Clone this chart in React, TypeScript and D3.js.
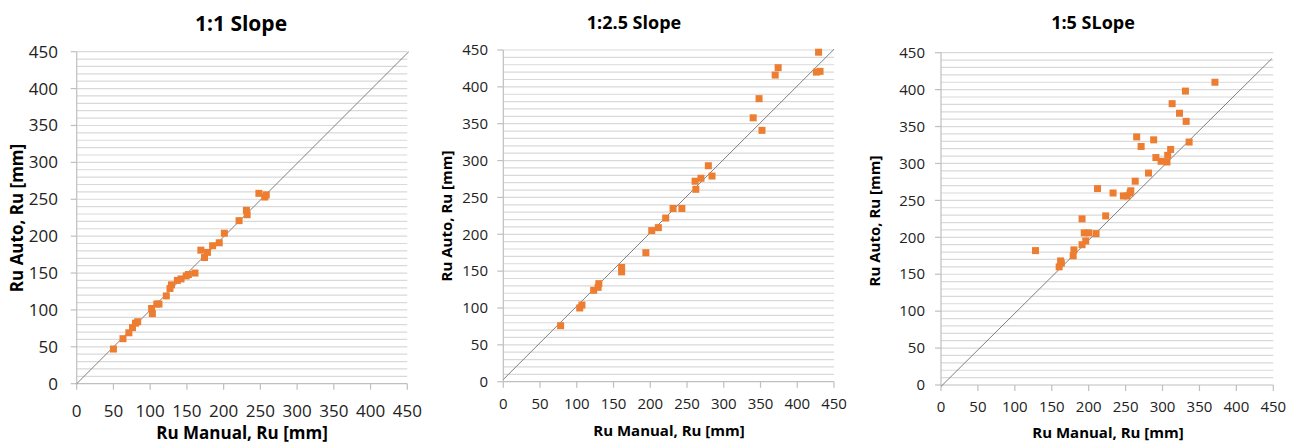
import React from 'react';
import * as d3 from 'd3';

type Pt = [number, number];

// 1:1 slope – manual vs auto run-up
const slope1: Pt[] = [
  [50, 47], [63, 61], [71, 69], [76, 76], [80, 82], [83, 84], [103, 95], [102, 102],
  [109, 108], [112, 108], [122, 119], [127, 129], [129, 134], [137, 140], [142, 142],
  [149, 146], [152, 148], [161, 150], [169, 181], [174, 171], [178, 178], [185, 187],
  [194, 191], [201, 204], [221, 221], [231, 235], [232, 229], [248, 258], [256, 253], [258, 256],
];

const slope25: Pt[] = [
  [78, 76], [104, 100], [107, 104], [123, 124], [129, 128], [130, 133], [161, 155], [161, 149],
  [194, 175], [202, 205], [211, 209], [221, 222], [231, 235], [243, 235], [262, 261], [261, 272],
  [269, 276], [279, 293], [284, 279], [340, 358], [348, 384], [352, 341], [370, 416], [374, 426],
  [429, 447], [426, 420], [431, 421],
];

const slope5: Pt[] = [
  [128, 182], [160, 160], [162, 168], [163, 165], [179, 175], [180, 183], [191, 225], [191, 190],
  [196, 195], [194, 206], [200, 206], [210, 205], [223, 229], [212, 266], [233, 260], [247, 256],
  [252, 256], [256, 260], [257, 263], [263, 276], [281, 287], [265, 336], [271, 323], [288, 332],
  [291, 308], [298, 303], [306, 302], [307, 311], [311, 319], [336, 329], [331, 398], [313, 381],
  [323, 368], [332, 357], [371, 410],
];

// reference lines drawn in each panel
const line1: Pt[] = [[0, 0], [452, 450]];
const line25: Pt[] = [[0, 3], [450, 451]];
const line5: Pt[] = [[0, -2], [448, 442]];

const titles = ['1:1 Slope', '1:2.5 Slope', '1:5 SLope'];
const xTitle = 'Ru Manual, Ru [mm]';
const yTitle = 'Ru Auto, Ru [mm]';
const majorTicks = d3.range(0, 451, 50);
const gridTicks = d3.range(10, 451, 10);

const FONT = '"Open Sans", sans-serif';

type PanelProps = {
  data: Pt[];
  line: Pt[];
  title: string;
  box: { l: number; r: number; t: number; b: number };
  titleY: number;
  titleX: number;
  titleSize: number;
  tickSize: number;
  labelSize: number;
  yLabelRight: number;
  xLabelY: number;
  xTitleX: number;
  xTitleY: number;
  yTitleX: number;
  yTitleY: number;
};

const Panel = (p: PanelProps) => {
  const x = d3.scaleLinear().domain([0, 450]).range([p.box.l, p.box.r]);
  const y = d3.scaleLinear().domain([0, 450]).range([p.box.b, p.box.t]);
  const path = d3.line<Pt>().x(d => x(d[0])).y(d => y(d[1]));
  const s = 7;

  return (
    <g>
      <text x={p.titleX} y={p.titleY} textAnchor="middle" fontFamily={FONT}
        fontWeight="bold" fontSize={p.titleSize} fill="#000">{p.title}</text>

      {gridTicks.map(t => (
        <line key={'g' + t} x1={x(0)} x2={x(450)} y1={y(t)} y2={y(t)}
          stroke="#d9d9d9" strokeWidth={1.2} />
      ))}

      {/* axes */}
      <line x1={x(0)} x2={x(0)} y1={y(0)} y2={y(450)} stroke="#bfbfbf" strokeWidth={1.2} />
      <line x1={x(0)} x2={x(450)} y1={y(0)} y2={y(0)} stroke="#bfbfbf" strokeWidth={1.2} />
      {majorTicks.map(t => (
        <g key={'t' + t}>
          <line x1={x(0) - 6} x2={x(0)} y1={y(t)} y2={y(t)} stroke="#bfbfbf" strokeWidth={1.2} />
          <line x1={x(t)} x2={x(t)} y1={y(0)} y2={y(0) + 6} stroke="#bfbfbf" strokeWidth={1.2} />
          <text x={p.yLabelRight} y={y(t)} dy="0.35em" textAnchor="end" fontFamily={FONT}
            fontSize={p.tickSize} fill="#222">{t}</text>
          <text x={x(t)} y={p.xLabelY} dy="0.35em" textAnchor="middle" fontFamily={FONT}
            fontSize={p.tickSize} fill="#222">{t}</text>
        </g>
      ))}

      <path d={path(p.line) || ''} stroke="#7f7f7f" strokeWidth={1} fill="none" />

      {p.data.map((d, i) => (
        <rect key={i} x={x(d[0]) - s / 2} y={y(d[1]) - s / 2} width={s} height={s} fill="#ed7d31" />
      ))}

      <text x={p.xTitleX} y={p.xTitleY} dy="0.35em" textAnchor="middle" fontFamily={FONT}
        fontWeight="bold" fontSize={p.labelSize} fill="#000">{xTitle}</text>
      <text transform={`translate(${p.yTitleX},${p.yTitleY}) rotate(-90)`} dy="0.35em"
        textAnchor="middle" fontFamily={FONT} fontWeight="bold" fontSize={p.labelSize}
        fill="#000">{yTitle}</text>
    </g>
  );
};

export default function App() {
  return (
    <svg width={1298} height={443} style={{ position: 'absolute', left: 0, top: 0, background: '#fff' }}>
      <rect width={1298} height={443} fill="#fff" />
      <Panel data={slope1} line={line1} title={titles[0]}
        box={{ l: 76.7, r: 407.3, t: 51.7, b: 383.7 }}
        titleX={241} titleY={31} titleSize={21} tickSize={17} labelSize={17}
        yLabelRight={58} xLabelY={411} xTitleX={242} xTitleY={433}
        yTitleX={17} yTitleY={218} />
      <Panel data={slope25} line={line25} title={titles[1]}
        box={{ l: 503.3, r: 834, t: 50, b: 381.7 }}
        titleX={634} titleY={29} titleSize={18} tickSize={15} labelSize={15}
        yLabelRight={488} xLabelY={404} xTitleX={669} xTitleY={431}
        yTitleX={447} yTitleY={216} />
      <Panel data={slope5} line={line5} title={titles[2]}
        box={{ l: 941, r: 1273.3, t: 52.7, b: 385 }}
        titleX={1093} titleY={29} titleSize={18} tickSize={15} labelSize={15}
        yLabelRight={925} xLabelY={407} xTitleX={1108} xTitleY={433}
        yTitleX={875} yTitleY={221} />
    </svg>
  );
}
